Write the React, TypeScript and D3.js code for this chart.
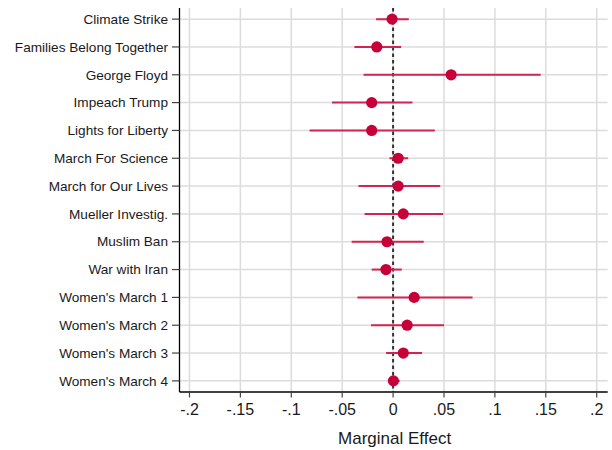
import React from "react";
import * as d3 from "d3";

const categories = [
  "Climate Strike",
  "Families Belong Together",
  "George Floyd",
  "Impeach Trump",
  "Lights for Liberty",
  "March For Science",
  "March for Our Lives",
  "Mueller Investig.",
  "Muslim Ban",
  "War with Iran",
  "Women's March 1",
  "Women's March 2",
  "Women's March 3",
  "Women's March 4",
];
const estimates = [-0.001, -0.016, 0.057, -0.021, -0.021, 0.005, 0.005, 0.010, -0.006, -0.007, 0.0207, 0.0138, 0.010, 0.0003];
const ciLow = [-0.0167, -0.038, -0.029, -0.060, -0.082, -0.0036, -0.034, -0.028, -0.0407, -0.021, -0.035, -0.0217, -0.0069, -0.0046];
const ciHigh = [0.0154, 0.0079, 0.145, 0.019, 0.041, 0.0148, 0.0463, 0.0492, 0.0301, 0.0085, 0.078, 0.050, 0.0285, 0.0065];
const xTicks = [-0.2, -0.15, -0.1, -0.05, 0, 0.05, 0.1, 0.15, 0.2];
const xTickLabels = ["-.2", "-.15", "-.1", "-.05", "0", ".05", ".1", ".15", ".2"];
const xTitle = "Marginal Effect";

const W = 612;
const H = 450;
const left = 179.5;
const right = 607.7;
const top = 8;
const bottom = 392;

export default function App() {
  const x = d3.scaleLinear().domain([-0.2098, 0.2108]).range([left, right]);
  const y = d3.scaleLinear().domain([0.6, 14.4]).range([top, bottom]);
  const font = "'Liberation Sans', Arial, Helvetica, sans-serif";
  const dot = "#c8003a";
  const bar = "#d02452";
  return (
    <svg width={W} height={H} style={{ position: "absolute", left: 0, top: 0, background: "#fff" }} fontFamily={font}>
      <rect x={0} y={0} width={W} height={H} fill="#fff" />
      {xTicks.map((t) => (
        <line key={"vg" + t} x1={x(t)} x2={x(t)} y1={top} y2={bottom} stroke="#dcdcdc" strokeWidth={1.5} />
      ))}
      {categories.map((c, i) => (
        <line key={"hg" + c} x1={left} x2={right} y1={y(i + 1)} y2={y(i + 1)} stroke="#dcdcdc" strokeWidth={1.5} />
      ))}
      <line x1={x(0)} x2={x(0)} y1={top} y2={bottom} stroke="#333" strokeWidth={2} strokeDasharray="3.5,3" />
      {categories.map((c, i) => (
        <line key={"ci" + c} x1={x(ciLow[i])} x2={x(ciHigh[i])} y1={y(i + 1)} y2={y(i + 1)} stroke={bar} strokeWidth={2} />
      ))}
      {categories.map((c, i) => (
        <circle key={"pt" + c} cx={x(estimates[i])} cy={y(i + 1)} r={5.6} fill={dot} />
      ))}
      <line x1={left} x2={left} y1={top} y2={bottom} stroke="#000" strokeWidth={1.3} />
      <line x1={left} x2={right} y1={bottom} y2={bottom} stroke="#000" strokeWidth={1.3} />
      {categories.map((c, i) => (
        <g key={"yt" + c}>
          <line x1={left - 7.5} x2={left} y1={y(i + 1)} y2={y(i + 1)} stroke="#444" strokeWidth={1.2} />
          <text x={left - 11.5} y={y(i + 1)} dy="0.35em" textAnchor="end" fontSize={13.6} fill="#1a1a1a">
            {c}
          </text>
        </g>
      ))}
      {xTicks.map((t, i) => (
        <g key={"xt" + t}>
          <line x1={x(t)} x2={x(t)} y1={bottom} y2={bottom + 5.5} stroke="#444" strokeWidth={1.2} />
          <text x={x(t)} y={415} textAnchor="middle" fontSize={16} fill="#1a1a1a">
            {xTickLabels[i]}
          </text>
        </g>
      ))}
      <text x={(left + right) / 2 + 1} y={444} textAnchor="middle" fontSize={17} fill="#1a1a1a">
        {xTitle}
      </text>
    </svg>
  );
}
